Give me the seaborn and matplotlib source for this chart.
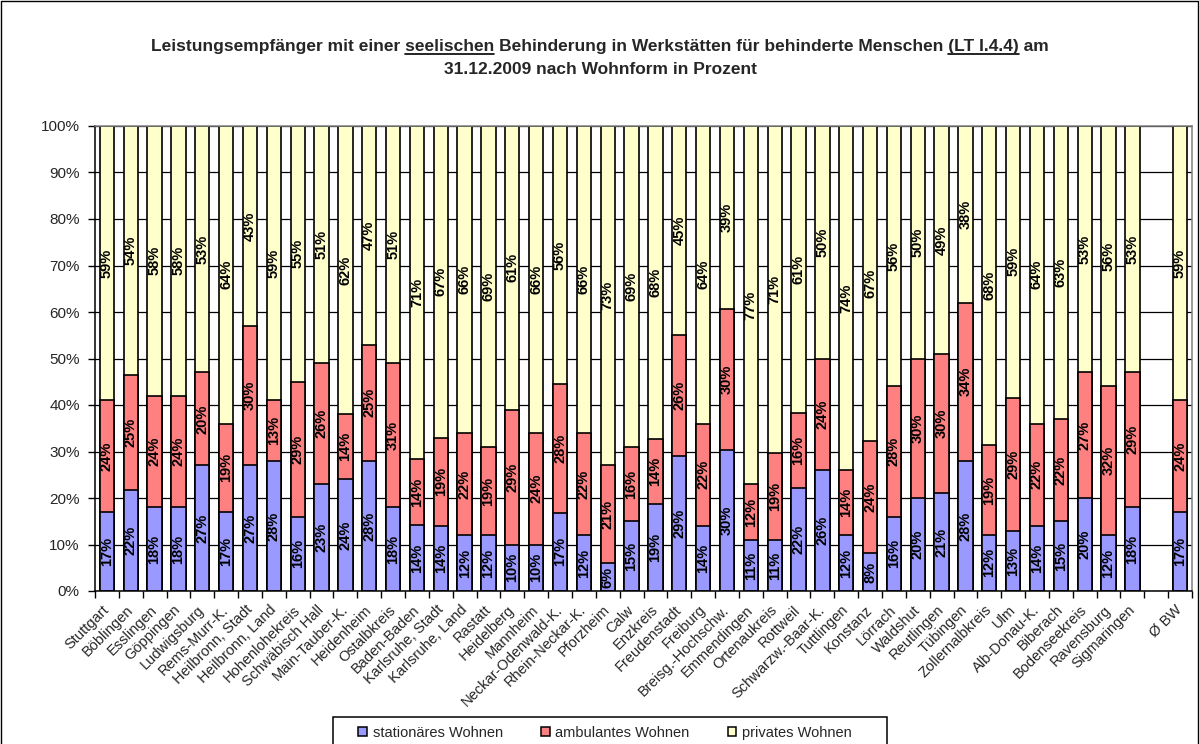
import numpy as np
import pandas as pd
import matplotlib
matplotlib.use("Agg")
import matplotlib.pyplot as plt
from matplotlib.patches import Patch, Rectangle
from matplotlib.lines import Line2D
import seaborn as sns

# Stadt- und Landkreise, danach eine Leerspalte und der Landesdurchschnitt
kreise = [
    "Stuttgart", "Böblingen", "Esslingen", "Göppingen", "Ludwigsburg", "Rems-Murr-K.",
    "Heilbronn, Stadt", "Heilbronn, Land", "Hohenlohekreis", "Schwäbisch Hall",
    "Main-Tauber-K.", "Heidenheim", "Ostalbkreis", "Baden-Baden", "Karlsruhe, Stadt",
    "Karlsruhe, Land", "Rastatt", "Heidelberg", "Mannheim", "Neckar-Odenwald-K.",
    "Rhein-Neckar-K.", "Pforzheim", "Calw", "Enzkreis", "Freudenstadt", "Freiburg",
    "Breisg.-Hochschw.", "Emmendingen", "Ortenaukreis", "Rottweil", "Schwarzw.-Baar-K.",
    "Tuttlingen", "Konstanz", "Lörrach", "Waldshut", "Reutlingen", "Tübingen",
    "Zollernalbkreis", "Ulm", "Alb-Donau-K.", "Biberach", "Bodenseekreis", "Ravensburg",
    "Sigmaringen", " ", "Ø BW",
]

# Anteile in Prozent je Wohnform
stationaer = [17, 22, 18, 18, 27, 17, 27, 28, 16, 23, 24, 28, 18, 14, 14, 12, 12, 10, 10, 17,
              12, 6, 15, 19, 29, 14, 30, 11, 11, 22, 26, 12, 8, 16, 20, 21, 28, 12, 13, 14,
              15, 20, 12, 18, np.nan, 17]
ambulant = [24, 25, 24, 24, 20, 19, 30, 13, 29, 26, 14, 25, 31, 14, 19, 22, 19, 29, 24, 28,
            22, 21, 16, 14, 26, 22, 30, 12, 19, 16, 24, 14, 24, 28, 30, 30, 34, 19, 29, 22,
            22, 27, 32, 29, np.nan, 24]
privat = [59, 54, 58, 58, 53, 64, 43, 59, 55, 51, 62, 47, 51, 71, 67, 66, 69, 61, 66, 56,
          66, 73, 69, 68, 45, 64, 39, 77, 71, 61, 50, 74, 67, 56, 50, 49, 38, 68, 59, 64,
          63, 53, 56, 53, np.nan, 59]

serien = ["stationäres Wohnen", "ambulantes Wohnen", "privates Wohnen"]
farben = ["#9999FF", "#FF8080", "#FFFFCC"]

sns.set_theme(style="white")
plt.rcParams["font.family"] = ["Liberation Sans", "DejaVu Sans"]

W, H = 1199, 744
fig = plt.figure(figsize=(W / 100, H / 100), dpi=100)
L, R, T, B = 95, 1192, 126, 591
ax = fig.add_axes([L / W, 1 - B / H, (R - L) / W, (B - T) / H])

df = pd.DataFrame({"Kreis": kreise, "stat": stationaer, "amb": ambulant, "priv": privat})
summe = df[["stat", "amb", "priv"]].sum(axis=1, min_count=1)
df["p_stat"] = df["stat"] / summe * 100
df["p_amb"] = df["amb"] / summe * 100
df["p_priv"] = df["priv"] / summe * 100
df["bis_amb"] = df["p_stat"] + df["p_amb"]
df["bis_priv"] = df["bis_amb"] + df["p_priv"]

# Gestapelte 100%-Säulen: kumulierte Höhen von oben nach unten übereinander zeichnen
for spalte, farbe in zip(["bis_priv", "bis_amb", "p_stat"], farben[::-1]):
    sns.barplot(data=df, x="Kreis", y=spalte, order=kreise, color=farbe, saturation=1,
                edgecolor="black", linewidth=1.2, width=0.6, errorbar=None, ax=ax, zorder=2)

# Wertebeschriftungen mittig in den Segmenten
for i, row in df.iterrows():
    if np.isnan(row["stat"]):
        continue
    unten = 0.0
    for wert, anteil in [(row["stat"], row["p_stat"]), (row["amb"], row["p_amb"]),
                         (row["priv"], row["p_priv"])]:
        ax.text(i, unten + anteil / 2, f"{int(wert)}%", rotation=90, ha="center",
                va="center", fontsize=10.5, fontweight="bold", color="black", zorder=3)
        unten += anteil

ax.set_xlim(-0.5, len(kreise) - 0.5)
ax.set_ylim(0, 100)
ax.set_yticks(np.arange(0, 101, 10))
ax.set_yticklabels([f"{v}%" for v in range(0, 101, 10)], fontsize=11)
ax.yaxis.grid(True, color="black", linewidth=0.9)
ax.set_axisbelow(True)
ax.set_xlabel("")
ax.set_ylabel("")

ax.set_xticks(np.arange(len(kreise)))
ax.set_xticklabels(kreise, rotation=45, ha="right", va="center", rotation_mode="anchor",
                   fontsize=10.5)
ax.set_xticks(np.arange(len(kreise) + 1) - 0.5, minor=True)
ax.tick_params(axis="x", which="major", length=0, pad=12)
ax.tick_params(axis="x", which="minor", length=5, width=1, color="black", direction="out",
               bottom=True)
ax.tick_params(axis="y", length=5, width=1, color="black", direction="out", left=True, pad=6)

for s in ["left", "bottom"]:
    ax.spines[s].set_color("black")
    ax.spines[s].set_linewidth(1.1)
for s in ["top", "right"]:
    ax.spines[s].set_color("#808080")
    ax.spines[s].set_linewidth(1.1)

# Zweizeiliger Titel mit Unterstreichungen
titel_gr = 12.5
zeile1 = "Leistungsempfänger mit einer seelischen Behinderung in Werkstätten für behinderte Menschen (LT I.4.4) am"
zeile2 = "31.12.2009 nach Wohnform in Prozent"
cx = 600
y1, y2 = 51, 74
fig.text(cx / W, 1 - y1 / H, zeile1, ha="center", va="baseline", fontsize=titel_gr,
         fontweight="bold")
fig.text(cx / W, 1 - y2 / H, zeile2, ha="center", va="baseline", fontsize=titel_gr,
         fontweight="bold")

renderer = fig.canvas.get_renderer()


def breite(s):
    t = fig.text(0, 0, s, fontsize=titel_gr, fontweight="bold")
    w = t.get_window_extent(renderer).width
    t.remove()
    return w


links = cx - breite(zeile1) / 2
for wort, bis in [("seelischen", "Leistungsempfänger mit einer seelischen"),
                  ("(LT I.4.4)", "Leistungsempfänger mit einer seelischen Behinderung in Werkstätten für behinderte Menschen (LT I.4.4)")]:
    ende = links + breite(bis)
    start = ende - breite(wort)
    fig.add_artist(Line2D([start / W, ende / W], [1 - (y1 + 3) / H] * 2,
                          transform=fig.transFigure, color="black", linewidth=1.2))

# Legende mit Rahmen
fig.add_artist(Rectangle((333 / W, 1 - 760 / H), (887 - 333) / W, (760 - 717) / H,
                         transform=fig.transFigure, fill=False, edgecolor="black",
                         linewidth=1.1, clip_on=False))
handles = [Patch(facecolor=f, edgecolor="black", linewidth=1.1) for f in farben]
fig.legend(handles, serien, loc="center", bbox_to_anchor=(605 / W, 1 - 733 / H), ncol=3,
           frameon=False, fontsize=10.5, handlelength=0.6, handleheight=0.6,
           handletextpad=0.4, columnspacing=2.6, borderaxespad=0)

# Rahmen des Diagrammbereichs
fig.add_artist(Line2D([0.5 / W, 0.5 / W, 1 - 1.5 / W, 1 - 1.5 / W],
                      [0, 1 - 0.5 / H, 1 - 0.5 / H, 0], transform=fig.transFigure,
                      color="black", linewidth=1))

fig.savefig("out.png", dpi=100)
